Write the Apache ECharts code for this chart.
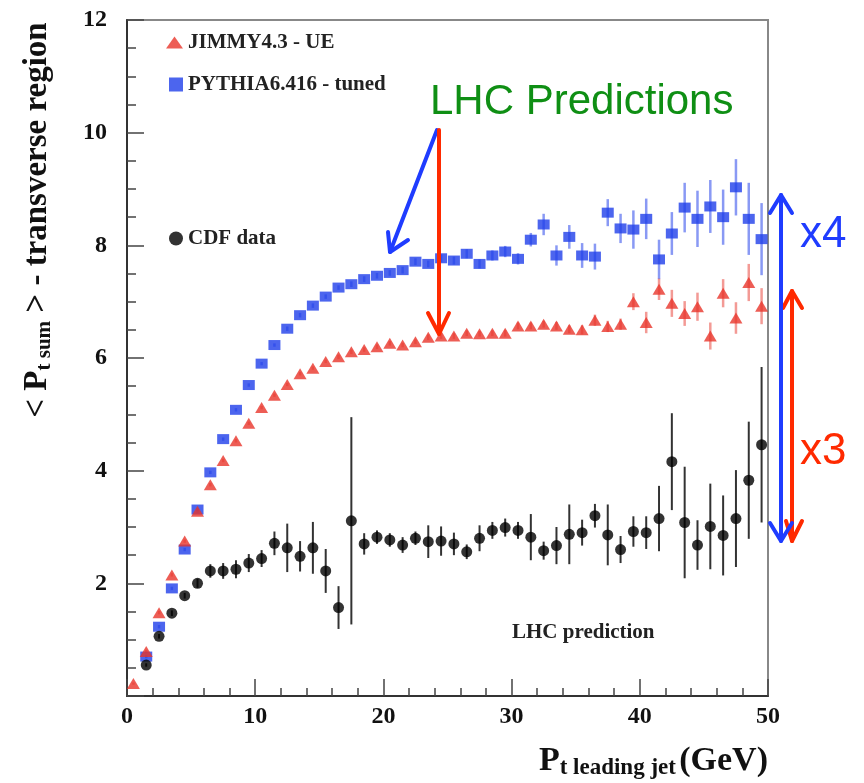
<!DOCTYPE html>
<html>
<head>
<meta charset="utf-8">
<script src="https://cdn.jsdelivr.net/npm/echarts@6/dist/echarts.min.js"></script>
<style>
  html, body { margin: 0; padding: 0; background: #fff; }
  #chart-container { width: 864px; height: 783px; }
</style>
</head>
<body>
<div id="chart-container"></div>
<script>
// bin centres (GeV)
const ptJimmy = [0.5, 1.5, 2.5, 3.5, 4.5, 5.5, 6.5, 7.5, 8.5, 9.5, 10.5, 11.5, 12.5, 13.5, 14.5, 15.5, 16.5, 17.5, 18.5, 19.5, 20.5, 21.5, 22.5, 23.5, 24.5,
  25.5, 26.5, 27.5, 28.5, 29.5, 30.5, 31.5, 32.5, 33.5, 34.5, 35.5, 36.5, 37.5, 38.5, 39.5, 40.5, 41.5, 42.5, 43.5, 44.5, 45.5, 46.5, 47.5, 48.5, 49.5];
const ptBins = ptJimmy.slice(1);

// JIMMY4.3 - UE
const jimmy = [0.22, 0.79, 1.48, 2.15, 2.75, 3.28, 3.75, 4.18, 4.53, 4.84, 5.12, 5.34, 5.53, 5.72, 5.82, 5.94, 6.02, 6.11, 6.15, 6.20, 6.26, 6.23, 6.29, 6.37, 6.39,
  6.39, 6.44, 6.43, 6.44, 6.44, 6.57, 6.57, 6.60, 6.57, 6.51, 6.50, 6.67, 6.56, 6.60, 7.00, 6.63, 7.22, 6.97, 6.79, 6.91, 6.39, 7.15, 6.71, 7.34, 6.92];
const jimmyErr = [0.02, 0.03, 0.03, 0.03, 0.03, 0.03, 0.03, 0.03, 0.03, 0.03, 0.03, 0.03, 0.03, 0.03, 0.03, 0.03, 0.04, 0.04, 0.04, 0.04, 0.04, 0.04, 0.04, 0.05, 0.05,
  0.05, 0.05, 0.05, 0.05, 0.06, 0.06, 0.06, 0.06, 0.07, 0.07, 0.08, 0.10, 0.10, 0.10, 0.15, 0.19, 0.19, 0.24, 0.22, 0.25, 0.24, 0.25, 0.28, 0.33, 0.32];

// PYTHIA6.416 - tuned
const pythia = [0.70, 1.23, 1.91, 2.60, 3.31, 3.97, 4.56, 5.08, 5.52, 5.90, 6.23, 6.52, 6.76, 6.93, 7.09, 7.25, 7.31, 7.40, 7.46, 7.51, 7.56, 7.71, 7.67, 7.77,
  7.73, 7.85, 7.67, 7.82, 7.89, 7.76, 8.10, 8.37, 7.82, 8.15, 7.82, 7.80, 8.58, 8.30, 8.28, 8.47, 7.75, 8.21, 8.67, 8.47, 8.69, 8.50, 9.03, 8.47, 8.11];
const pythiaErr = [0.03, 0.03, 0.03, 0.03, 0.03, 0.03, 0.03, 0.03, 0.03, 0.03, 0.03, 0.04, 0.04, 0.04, 0.04, 0.04, 0.05, 0.05, 0.05, 0.05, 0.06, 0.06, 0.06, 0.07,
  0.07, 0.08, 0.08, 0.09, 0.10, 0.10, 0.12, 0.19, 0.18, 0.21, 0.22, 0.23, 0.24, 0.26, 0.34, 0.36, 0.35, 0.38, 0.44, 0.50, 0.47, 0.49, 0.50, 0.64, 0.64];

// CDF data
const cdf = [0.55, 1.06, 1.47, 1.78, 2.00, 2.22, 2.22, 2.25, 2.36, 2.44, 2.71, 2.63, 2.48, 2.63, 2.22, 1.57, 3.11, 2.70, 2.82, 2.77, 2.68, 2.80, 2.74, 2.75,
  2.70, 2.56, 2.80, 2.94, 2.99, 2.94, 2.82, 2.58, 2.67, 2.87, 2.90, 3.20, 2.86, 2.60, 2.92, 2.90, 3.15, 4.16, 3.08, 2.68, 3.01, 2.85, 3.15, 3.83, 4.46];
const cdfErr = [0.03, 0.04, 0.05, 0.05, 0.08, 0.12, 0.14, 0.16, 0.16, 0.15, 0.21, 0.43, 0.27, 0.46, 0.39, 0.38, 1.84, 0.19, 0.12, 0.12, 0.14, 0.12, 0.29, 0.26,
  0.20, 0.13, 0.23, 0.15, 0.16, 0.15, 0.41, 0.16, 0.33, 0.53, 0.23, 0.21, 0.54, 0.24, 0.27, 0.29, 0.58, 0.86, 0.99, 0.44, 0.76, 0.71, 0.86, 1.04, 1.38];

const xTicks = [0, 10, 20, 30, 40, 50];
const yTicks = [0, 2, 4, 6, 8, 10, 12];

const SERIF = "'Liberation Serif', 'DejaVu Serif', serif";
const SANS = "'Liberation Sans', Arial, sans-serif";
const RED = '#e8352b', BLUE = '#1f3fea', GREEN = '#0f8f14';
const ARROW_BLUE = '#1f3cff', ARROW_RED = '#ff2a00';

function pairs(xs, ys) {
  return xs.map((x, i) => [x, ys[i]]);
}
function bars(xs, ys, es) {
  return xs.map((x, i) => [x, ys[i] - es[i], ys[i] + es[i]]);
}
function errorBars(color, width) {
  return function (params, api) {
    const a = api.coord([api.value(0), api.value(1)]);
    const b = api.coord([api.value(0), api.value(2)]);
    return {
      type: 'line',
      shape: { x1: a[0], y1: a[1], x2: b[0], y2: b[1] },
      style: { stroke: color, lineWidth: width }
    };
  };
}
function legendBox(name, icon, top, w, h) {
  return {
    data: [name],
    icon: icon,
    left: 178 - w,
    top: top,
    orient: 'vertical',
    itemWidth: w,
    itemHeight: h,
    selectedMode: false,
    textStyle: { fontFamily: SERIF, fontWeight: 'bold', fontSize: 21, color: '#222' }
  };
}
function arrowHead(points, color) {
  return { type: 'polyline', shape: { points: points }, style: { stroke: color, lineWidth: 4, fill: null, lineCap: 'round', lineJoin: 'round' }, z: 10 };
}
function arrowLine(x1, y1, x2, y2, color) {
  return { type: 'line', shape: { x1: x1, y1: y1, x2: x2, y2: y2 }, style: { stroke: color, lineWidth: 4, lineCap: 'round' }, z: 10 };
}

const chart = echarts.init(document.getElementById('chart-container'));

const option = {
  backgroundColor: '#fff',
  animation: false,
  grid: { left: 127, right: 96, top: 20, bottom: 87, show: true, borderColor: '#888', borderWidth: 2 },
  legend: [
    legendBox('JIMMY4.3 - UE', 'triangle', 27, 17, 12),
    legendBox('PYTHIA6.416 - tuned', 'rect', 69, 14, 14),
    legendBox('CDF data', 'circle', 223, 14, 14)
  ],
  xAxis: {
    type: 'value',
    min: xTicks[0],
    max: xTicks[xTicks.length - 1],
    interval: 10,
    splitLine: { show: false },
    axisLine: { lineStyle: { color: '#333', width: 2 } },
    axisTick: { inside: true, length: 17, lineStyle: { color: '#444', width: 1.5 } },
    minorTick: { show: true, splitNumber: 5, length: 8, lineStyle: { color: '#444', width: 1.5 } },
    axisLabel: { fontFamily: SERIF, fontWeight: 'bold', fontSize: 24, color: '#111', margin: 9 },
    name: '{p|P}{s|t leading jet} {p|(GeV)}',
    nameLocation: 'end',
    nameGap: 0,
    nameTextStyle: {
      align: 'right',
      verticalAlign: 'top',
      padding: [47, 0, 0, 0],
      rich: {
        p: { fontFamily: SERIF, fontWeight: 'bold', fontSize: 34, color: '#111' },
        s: { fontFamily: SERIF, fontWeight: 'bold', fontSize: 23, color: '#111', padding: [14, 0, 0, 0] }
      }
    }
  },
  yAxis: {
    type: 'value',
    min: yTicks[0],
    max: yTicks[yTicks.length - 1],
    interval: 2,
    splitLine: { show: false },
    axisLine: { lineStyle: { color: '#333', width: 2 } },
    axisTick: { inside: true, length: 17, lineStyle: { color: '#444', width: 1.5 } },
    minorTick: { show: true, splitNumber: 4, length: 9, lineStyle: { color: '#444', width: 1.5 } },
    axisLabel: {
      fontFamily: SERIF, fontWeight: 'bold', fontSize: 24, color: '#111', margin: 20,
      formatter: v => (v === 0 ? '' : String(v))
    },
    name: '{n|< P}{s|t sum}{n| > - transverse region}',
    nameLocation: 'middle',
    nameGap: 72,
    nameTextStyle: {
      padding: [0, 0, 0, 276],
      rich: {
        n: { fontFamily: SERIF, fontWeight: 'bold', fontSize: 33, color: '#111' },
        s: { fontFamily: SERIF, fontWeight: 'bold', fontSize: 21, color: '#111', padding: [14, 0, 0, 0] }
      }
    }
  },
  series: [
    {
      name: 'PYTHIA6.416 - tuned err', type: 'custom', renderItem: errorBars('rgba(40,70,235,0.55)', 2.5),
      data: bars(ptBins, pythia, pythiaErr), z: 2, silent: true
    },
    {
      name: 'JIMMY4.3 - UE err', type: 'custom', renderItem: errorBars('rgba(232,53,43,0.5)', 2.5),
      data: bars(ptJimmy, jimmy, jimmyErr), z: 2, silent: true
    },
    {
      name: 'CDF data err', type: 'custom', renderItem: errorBars('#333', 2),
      data: bars(ptBins, cdf, cdfErr), z: 2, silent: true
    },
    {
      name: 'PYTHIA6.416 - tuned', type: 'scatter', symbol: 'rect', symbolSize: [12, 10],
      itemStyle: { color: BLUE }, data: pairs(ptBins, pythia), z: 3
    },
    {
      name: 'JIMMY4.3 - UE', type: 'scatter', symbol: 'triangle', symbolSize: [13, 11],
      itemStyle: { color: RED }, data: pairs(ptJimmy, jimmy), z: 4
    },
    {
      name: 'CDF data', type: 'scatter', symbol: 'circle', symbolSize: 11,
      itemStyle: { color: '#000' }, data: pairs(ptBins, cdf), z: 5
    }
  ],
  graphic: [
    { type: 'text', left: 512, top: 622, style: { text: 'LHC prediction', font: 'bold 21px ' + SERIF, fill: '#222' } },
    { type: 'text', x: 430, y: 102, style: { text: 'LHC Predictions', font: '42px ' + SANS, fill: GREEN, verticalAlign: 'middle' }, z: 10 },
    arrowLine(437, 130, 390, 252, ARROW_BLUE),
    arrowHead([[388, 232], [390, 252], [408, 240]], ARROW_BLUE),
    arrowLine(439, 130, 439, 334, ARROW_RED),
    arrowHead([[428, 313], [439, 334], [449, 313]], ARROW_RED),
    arrowLine(792, 291, 792, 541, ARROW_RED),
    arrowHead([[783, 308], [792, 291], [802, 308]], ARROW_RED),
    arrowHead([[786, 521], [792, 541], [802, 521]], ARROW_RED),
    arrowLine(781, 195, 781, 541, ARROW_BLUE),
    arrowHead([[770, 213], [781, 195], [792, 213]], ARROW_BLUE),
    arrowHead([[770, 523], [781, 541], [792, 523]], ARROW_BLUE),
    { type: 'text', x: 800, y: 235, style: { text: 'x4', font: '44px ' + SANS, fill: ARROW_BLUE, verticalAlign: 'middle' }, z: 10 },
    { type: 'text', x: 800, y: 452, style: { text: 'x3', font: '44px ' + SANS, fill: ARROW_RED, verticalAlign: 'middle' }, z: 10 }
  ]
};

chart.setOption(option);
</script>
</body>
</html>
